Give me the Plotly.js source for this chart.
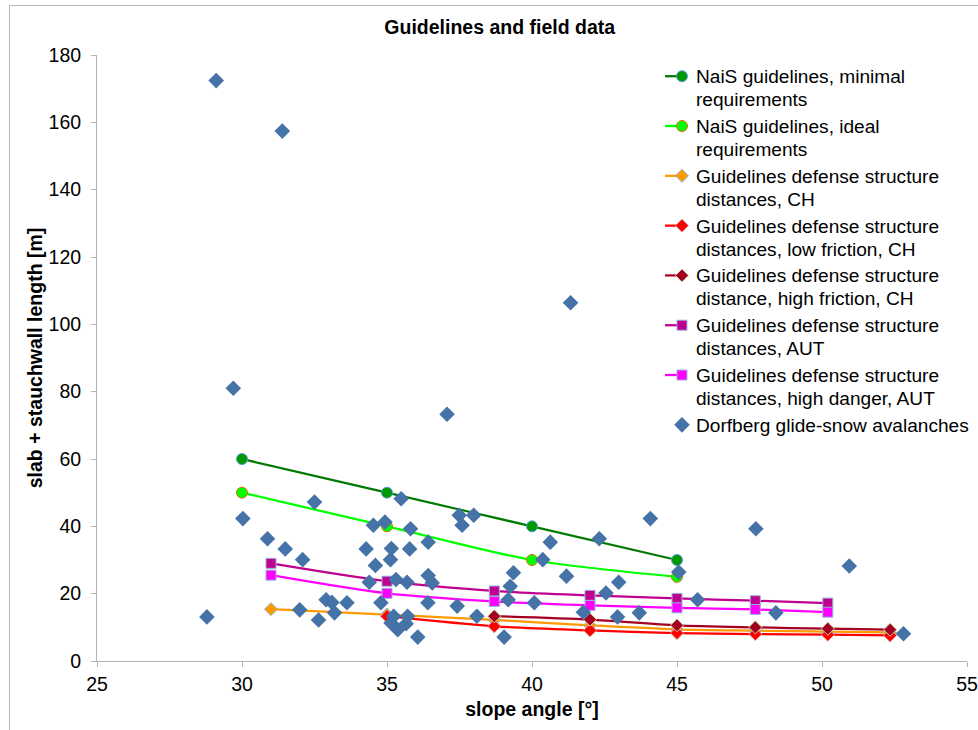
<!DOCTYPE html>
<html>
<head>
<meta charset="utf-8">
<script src="https://cdn.plot.ly/plotly-3.0.1.min.js"></script>
<style>
html,body{margin:0;padding:0;background:#fff;}
#wrap{position:relative;width:978px;height:730px;overflow:hidden;}
#chart{width:978px;height:730px;}
#frame{position:absolute;left:9px;top:5px;width:1000px;height:800px;border-left:1px solid #b8b8b8;border-top:1px solid #b8b8b8;pointer-events:none;z-index:10;}
</style>
</head>
<body>
<div id="wrap"><div id="chart"></div><div id="frame"></div></div>
<script>
// Guideline series
const naisX = [30, 35, 40, 45];
const naisMinimal = [60, 50, 40, 30];
const naisIdeal = [50, 40, 30, 25];

const chX = [31, 35, 38.7, 42, 45, 47.7, 50.2, 52.35];
const chDefense = [15.4, 13.8, 12.2, 10.6, 9.4, 9.0, 8.7, 8.5];
const chLowX = [35, 38.7, 42, 45, 47.7, 50.2, 52.35];
const chLowFriction = [13.3, 10.3, 9.1, 8.3, 8.0, 7.8, 7.6];
const chHighX = [38.7, 42, 45, 47.7, 50.2, 52.35];
const chHighFriction = [13.3, 12.3, 10.6, 10.0, 9.6, 9.3];

const autX = [31, 35, 38.7, 42, 45, 47.7, 50.2];
const autDefense = [29.0, 23.7, 20.8, 19.5, 18.6, 17.9, 17.2];
const autHighDanger = [25.5, 20.1, 17.7, 16.5, 15.8, 15.3, 14.5];

// Dorfberg glide-snow avalanches
const dorfSlope = [29.11, 31.39, 29.70, 37.07, 41.33, 28.79, 30.03, 30.88, 31.49, 32.09,
  32.50, 34.28, 34.39, 32.90, 33.10, 33.62, 31.99, 33.19, 32.64, 35.49,
  37.49, 37.99, 37.59, 34.53, 34.93, 35.81, 35.15, 35.78, 36.42, 35.12,
  34.60, 35.31, 35.69, 36.42, 36.56, 34.79, 36.41, 37.42, 38.10, 39.36,
  39.25, 39.18, 40.08, 39.04, 36.06, 35.23, 35.71, 35.14, 35.66, 35.37,
  44.08, 42.32, 40.63, 40.37, 41.19, 42.99, 42.55, 45.06, 45.71, 41.77,
  42.95, 43.70, 47.72, 50.94, 48.41, 52.81];
const dorfLength = [172.4, 157.4, 81.0, 73.3, 106.4, 13.1, 42.3, 36.3, 33.3, 30.1,
  47.2, 33.3, 23.4, 18.2, 17.4, 17.3, 15.2, 14.3, 12.2, 48.2,
  43.3, 43.3, 40.3, 40.3, 41.3, 39.3, 33.4, 33.3, 35.3, 30.1,
  28.4, 24.2, 23.4, 25.4, 23.2, 17.3, 17.3, 16.3, 13.3, 26.2,
  22.2, 18.2, 17.3, 7.1, 7.1, 13.3, 13.3, 11.3, 11.1, 9.3,
  42.3, 36.3, 35.3, 30.1, 25.2, 23.4, 20.2, 26.4, 18.2, 14.5,
  13.1, 14.3, 39.3, 28.2, 14.3, 8.1];

const names = [
  'NaiS guidelines, minimal<br>requirements',
  'NaiS guidelines, ideal<br>requirements',
  'Guidelines defense structure<br>distances, CH',
  'Guidelines defense structure<br>distances, low friction, CH',
  'Guidelines defense structure<br>distance, high friction, CH',
  'Guidelines defense structure<br>distances, AUT',
  'Guidelines defense structure<br>distances, high danger, AUT',
  'Dorfberg glide-snow avalanches'
];

function lineTrace(x, y, name, color, symbol, size, fill, border) {
  return {
    x: x, y: y, name: name, type: 'scatter', mode: 'lines+markers',
    line: {color: color, width: 2.25, shape: 'spline', smoothing: 0.8},
    marker: {symbol: symbol, size: size, color: fill, line: {color: border, width: 1}}
  };
}

const data = [
  lineTrace(naisX, naisMinimal, names[0], '#007a00', 'circle', 11, '#009900', '#5b9bd5'),
  lineTrace(naisX, naisIdeal, names[1], '#00ff00', 'circle', 11, '#00ff00', '#e46c0a'),
  lineTrace(chX, chDefense, names[2], '#ff9900', 'diamond', 10, '#ff9900', '#8eb4e3'),
  lineTrace(chLowX, chLowFriction, names[3], '#ff0000', 'diamond', 10, '#ff0000', '#d99694'),
  lineTrace(chHighX, chHighFriction, names[4], '#a50021', 'diamond', 10, '#a50021', '#c3d69b'),
  lineTrace(autX, autDefense, names[5], '#c0008f', 'square', 10, '#c0008f', '#95b3d7'),
  lineTrace(autX, autHighDanger, names[6], '#ff00ff', 'square', 10, '#ff00ff', '#95b3d7'),
  {
    x: dorfSlope, y: dorfLength, name: names[7], type: 'scatter', mode: 'markers',
    marker: {symbol: 'diamond', size: 12, color: '#4573a7', line: {color: '#4573a7', width: 0}}
  }
];

const font = 'Liberation Sans, Arial, sans-serif';
const TXT = 19.5;
const LEG = 19.1;
const layout = {
  width: 978, height: 730,
  margin: {l: 97, r: 11, t: 55, b: 69},
  paper_bgcolor: '#ffffff', plot_bgcolor: '#ffffff',
  font: {family: font, size: TXT, color: '#000000'},
  showlegend: true,
  title: {
    text: '<b>Guidelines and field data</b>',
    font: {family: font, size: TXT, color: '#000000'},
    xref: 'container', x: 0.511, xanchor: 'center',
    yref: 'container', y: 0.963, yanchor: 'middle'
  },
  xaxis: {
    range: [25, 55], dtick: 5, tick0: 25,
    showgrid: false, zeroline: false,
    showline: true, linecolor: '#b3b3b3', linewidth: 1,
    ticks: 'outside', ticklen: 5, tickcolor: '#b3b3b3',
    ticklabelstandoff: 1,
    tickfont: {family: font, size: TXT, color: '#000000'},
    title: {text: '<b>slope angle [°]</b>', font: {family: font, size: TXT, color: '#000000'}, standoff: 7}
  },
  yaxis: {
    range: [0, 180], dtick: 20,
    showgrid: false, zeroline: false,
    showline: true, linecolor: '#b3b3b3', linewidth: 1,
    ticks: 'outside', ticklen: 5, tickcolor: '#b3b3b3',
    ticklabelstandoff: 6,
    tickfont: {family: font, size: TXT, color: '#000000'},
    title: {text: '<b>slab + stauchwall length [m]</b>', font: {family: font, size: TXT, color: '#000000'}, standoff: 0}
  },
  legend: {
    x: 0.6425, xanchor: 'left', y: 0.995, yanchor: 'top',
    valign: 'top',
    bgcolor: 'rgba(0,0,0,0)', borderwidth: 0,
    font: {family: font, size: 18, color: '#000000'},
    tracegroupgap: 0
  }
};

Plotly.newPlot('chart', data, layout, {staticPlot: true, displayModeBar: false}).then(function () {
  // Excel-style legend: larger glyphs with tighter line spacing, shorter symbol lines
  document.querySelectorAll('#chart .legendtext').forEach(function (t) {
    t.style.fontSize = LEG + 'px';
    t.querySelectorAll('tspan.line').forEach(function (ln, i) {
      if (i > 0) ln.setAttribute('dy', (23 / LEG * i).toFixed(3) + 'em');
    });
  });
  document.querySelectorAll('#chart .legendsymbols').forEach(function (g) {
    g.setAttribute('transform', 'translate(6,0)');
  });
  document.querySelectorAll('#chart .legendlines path').forEach(function (p) {
    const d = p.getAttribute('d');
    if (d && /^M5,0h30$/.test(d.replace(/\s/g, ''))) p.setAttribute('d', 'M9,0h22');
  });
  // the enlarged text must not be cut by the legend's clip box
  document.querySelectorAll('#chart .legend [clip-path], #chart .legend').forEach(function (el) {
    el.removeAttribute('clip-path');
  });
});
</script>
</body>
</html>
